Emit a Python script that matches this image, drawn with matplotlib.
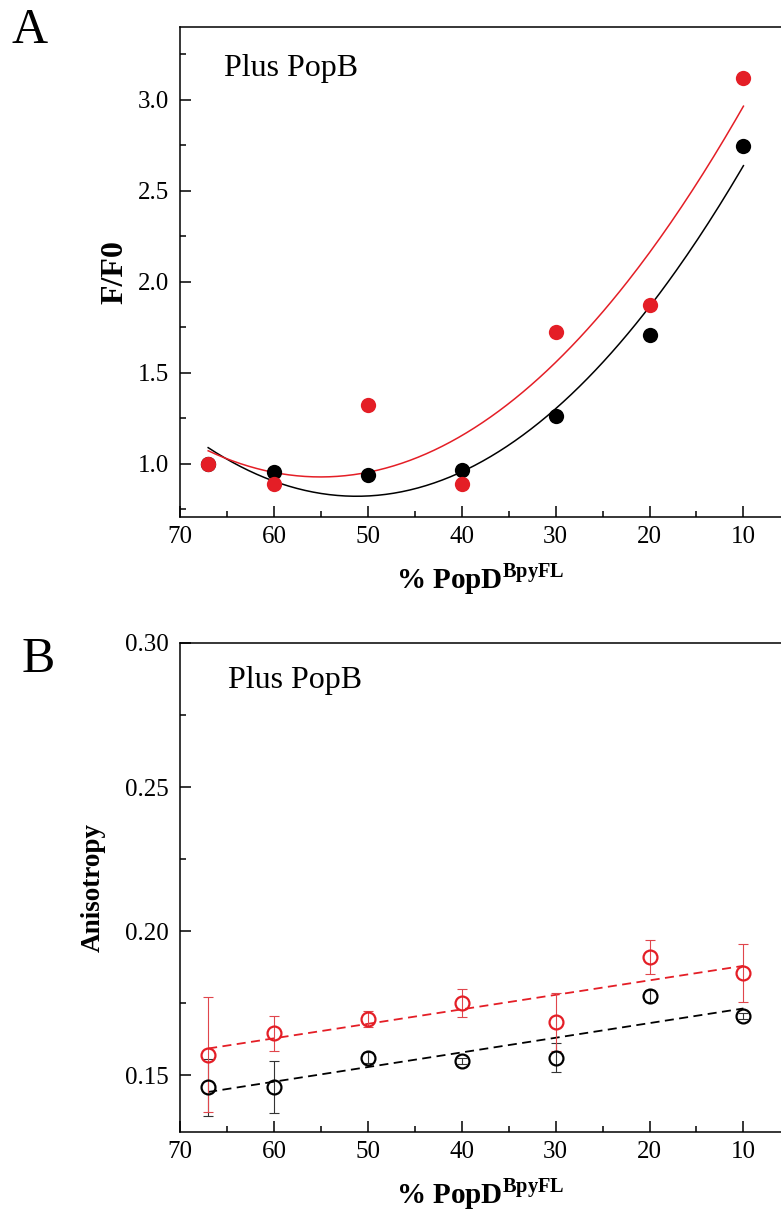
import numpy as np
import matplotlib
matplotlib.use("Agg")
import matplotlib.pyplot as plt
from matplotlib.ticker import MultipleLocator, FormatStrFormatter

plt.rcParams["font.family"] = ["Liberation Serif", "DejaVu Serif"]
plt.rcParams["mathtext.fontset"] = "custom"
plt.rcParams["mathtext.rm"] = "Liberation Serif"
plt.rcParams["mathtext.bf"] = "Liberation Serif:bold"

# % PopD-BpyFL in the mixture
pct = [67, 60, 50, 40, 30, 20, 10]

# Panel A: relative fluorescence F/F0
ff0_black = [1.00, 0.954, 0.94, 0.963, 1.26, 1.71, 2.747]
ff0_red = [1.00, 0.89, 1.32, 0.89, 1.723, 1.87, 3.12]

# Panel B: anisotropy with standard deviations
aniso_black = [0.1458, 0.1460, 0.1561, 0.1550, 0.1561, 0.1776, 0.1705]
aniso_black_err = [0.010, 0.009, 0.002, 0.001, 0.005, 0.002, 0.001]
aniso_red = [0.1572, 0.1646, 0.1696, 0.1751, 0.1686, 0.1910, 0.1856]
aniso_red_err = [0.020, 0.006, 0.0027, 0.005, 0.010, 0.006, 0.010]

RED = "#e41e26"
BLACK = "#000000"

W, H = 781, 1216
fig = plt.figure(figsize=(W / 100, H / 100), dpi=100)


def px_axes(left, top, right, bottom):
    return fig.add_axes([left / W, 1 - bottom / H, (right - left) / W, (bottom - top) / H])


def style_axes(ax):
    for side in ("left", "bottom", "top"):
        ax.spines[side].set_linewidth(1.1)
    ax.spines["right"].set_visible(False)
    ax.tick_params(which="both", direction="in", top=False, right=False,
                   labelsize=18, width=1.1)
    ax.tick_params(which="major", length=8)
    ax.tick_params(which="minor", length=4)
    ax.tick_params(axis="y", pad=8)
    ax.tick_params(axis="x", pad=7)
    ax.xaxis.set_major_locator(MultipleLocator(10))
    ax.xaxis.set_minor_locator(MultipleLocator(5))
    ax.set_xlim(70, 6)


xlabel = r"% PopD$^{\mathbf{BpyFL}}$"
xfit = np.linspace(67, 10, 200)

# ---- Panel A ----
axA = px_axes(180, 27, 781, 516.5)
style_axes(axA)
axA.set_ylim(0.71, 3.40)
axA.yaxis.set_major_locator(MultipleLocator(0.5))
axA.yaxis.set_minor_locator(MultipleLocator(0.25))
axA.yaxis.set_major_formatter(FormatStrFormatter("%.1f"))

cb = np.polyfit(pct, ff0_black, 2)
cr = np.polyfit(pct, ff0_red, 2)
axA.plot(xfit, np.polyval(cb, xfit), color=BLACK, lw=1.1, zorder=2)
axA.plot(xfit, np.polyval(cr, xfit), color=RED, lw=1.1, zorder=2)
axA.plot(pct, ff0_black, "o", color=BLACK, ms=11, mew=0, zorder=3)
axA.plot(pct, ff0_red, "o", color=RED, ms=11, mew=0, zorder=4)
axA.set_ylabel("F/F0", fontsize=23, fontweight="bold", labelpad=6)
axA.set_xlabel(xlabel, fontsize=21, fontweight="bold", labelpad=9)
axA.text(0.073, 0.900, "Plus PopB", transform=axA.transAxes, fontsize=23,
         ha="left", va="baseline")

# ---- Panel B ----
axB = px_axes(180, 643, 781, 1131.5)
style_axes(axB)
axB.set_ylim(0.1305, 0.30)
axB.yaxis.set_major_locator(MultipleLocator(0.05))
axB.yaxis.set_minor_locator(MultipleLocator(0.025))
axB.yaxis.set_major_formatter(FormatStrFormatter("%.2f"))

lb = np.polyfit(pct, aniso_black, 1)
lr = np.polyfit(pct, aniso_red, 1)
axB.plot(xfit, np.polyval(lb, xfit), color=BLACK, lw=1.3, ls=(0, (5, 3)), zorder=2)
axB.plot(xfit, np.polyval(lr, xfit), color=RED, lw=1.3, ls=(0, (5, 3)), zorder=2)
axB.errorbar(pct, aniso_black, yerr=aniso_black_err, fmt="none", ecolor="#333333",
             elinewidth=0.8, capsize=3.5, capthick=0.8, zorder=3)
axB.errorbar(pct, aniso_red, yerr=aniso_red_err, fmt="none", ecolor="#e0464c",
             elinewidth=0.8, capsize=3.5, capthick=0.8, zorder=3)
axB.plot(pct, aniso_black, "o", mfc="none", mec=BLACK, ms=10, mew=1.6, zorder=4)
axB.plot(pct, aniso_red, "o", mfc="none", mec=RED, ms=10, mew=1.6, zorder=5)
axB.set_ylabel("Anisotropy", fontsize=19.5, fontweight="bold", labelpad=14)
axB.set_xlabel(xlabel, fontsize=21, fontweight="bold", labelpad=9)
axB.text(0.08, 0.908, "Plus PopB", transform=axB.transAxes, fontsize=23,
         ha="left", va="baseline")

# Panel letters
fig.text(12 / W, 1 - 43 / H, "A", fontsize=36, ha="left", va="baseline")
fig.text(22 / W, 1 - 672 / H, "B", fontsize=36, ha="left", va="baseline")

fig.savefig("out.png", dpi=100)
